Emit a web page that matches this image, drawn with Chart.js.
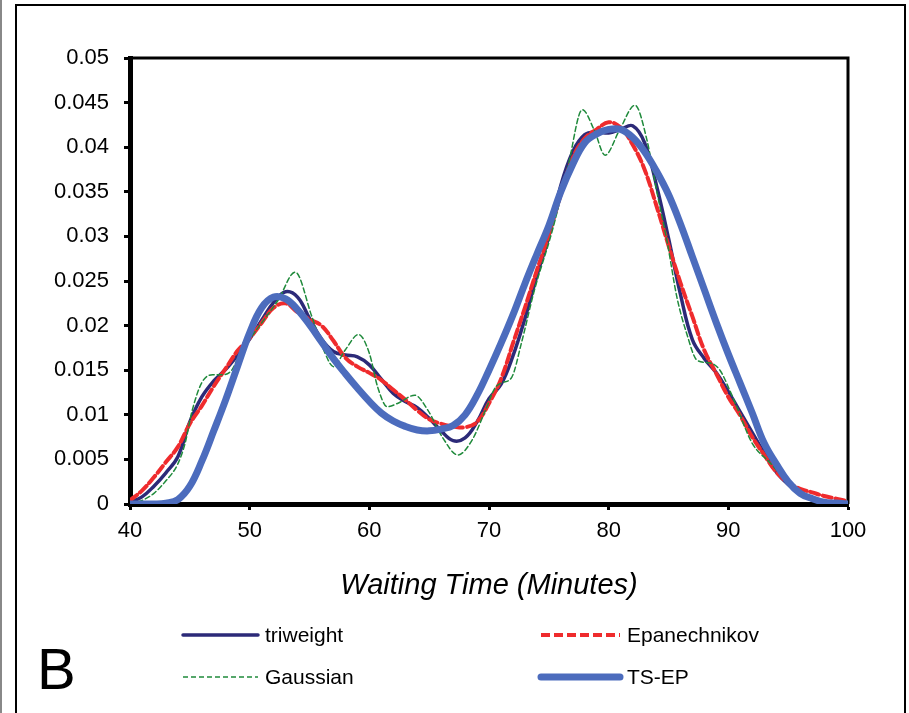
<!DOCTYPE html>
<html>
<head>
<meta charset="utf-8">
<script src="https://cdn.jsdelivr.net/npm/chart.js@4.4.1/dist/chart.umd.min.js"></script>
<style>
  html, body { margin: 0; padding: 0; background: #fff; }
  #wrap { width: 909px; height: 713px; position: relative; }
</style>
</head>
<body>
<div id="wrap"><canvas id="kdeChart"></canvas></div>
<script>
// waiting time grid (minutes) shared by the smooth estimates
const minutes = [40, 41, 42, 43, 44, 45, 46, 47, 48, 49,
  50, 51, 52, 53, 54, 55, 56, 57, 58, 59,
  60, 61, 62, 63, 64, 65, 66, 67, 68, 69,
  70, 71, 72, 73, 74, 75, 76, 77, 78, 79,
  80, 81, 82, 83, 84, 85, 86, 87, 88, 89,
  90, 91, 92, 93, 94, 95, 96, 97, 98, 99, 100];

const triweight = [0.0002, 0.0008, 0.0020, 0.0035, 0.0053, 0.0092, 0.0120, 0.0138, 0.0151, 0.0167,
  0.0185, 0.0206, 0.0226, 0.0238, 0.0232, 0.0208, 0.0185, 0.0171, 0.0167, 0.0165,
  0.0156, 0.0140, 0.0124, 0.0115, 0.0108, 0.0096, 0.0082, 0.0071, 0.0074, 0.0092,
  0.0118, 0.0134, 0.0166, 0.0208, 0.0256, 0.0300, 0.0357, 0.0395, 0.0414, 0.0417,
  0.0416, 0.0420, 0.0424, 0.0405, 0.0357, 0.0298, 0.0235, 0.0184, 0.0163, 0.0147,
  0.0126, 0.0103, 0.0080, 0.0057, 0.0036, 0.0022, 0.0012, 0.0006, 0.0003, 0.0001, 0];

const epanechnikov = [0.0004, 0.0015, 0.0030, 0.0047, 0.0064, 0.0090, 0.0110, 0.0132, 0.0152, 0.0172,
  0.0186, 0.0203, 0.0220, 0.0225, 0.0215, 0.0207, 0.0200, 0.0183, 0.0164, 0.0154,
  0.0147, 0.0139, 0.0128, 0.0117, 0.0105, 0.0095, 0.0090, 0.0087, 0.0086, 0.0092,
  0.0113, 0.0140, 0.0180, 0.0220, 0.0262, 0.0302, 0.0347, 0.0388, 0.0410, 0.0420,
  0.0428, 0.0422, 0.0403, 0.0375, 0.0334, 0.0290, 0.0248, 0.0210, 0.0172, 0.0146,
  0.0120, 0.0099, 0.0075, 0.0055, 0.0036, 0.0024, 0.0017, 0.0013, 0.0009, 0.0006, 0.0003];

const tsEp = [0, 0, 0, 0.0001, 0.0005, 0.0020, 0.0048, 0.0082, 0.0117, 0.0155,
  0.0192, 0.0220, 0.0232, 0.0230, 0.0218, 0.0201, 0.0182, 0.0163, 0.0146, 0.0130,
  0.0115, 0.0102, 0.0093, 0.0087, 0.0083, 0.0082, 0.0084, 0.0088, 0.0100, 0.0122,
  0.0150, 0.0180, 0.0212, 0.0247, 0.0280, 0.0312, 0.0350, 0.0381, 0.0405, 0.0415,
  0.0420, 0.0420, 0.0411, 0.0395, 0.0373, 0.0347, 0.0314, 0.0277, 0.0240, 0.0203,
  0.0168, 0.0135, 0.0102, 0.0068, 0.0045, 0.0025, 0.0012, 0.0006, 0.0002, 0.0001, 0];

// the gaussian estimate wiggles, so it is read at its turning points
const gaussianMinutes = [40, 41, 42, 43, 44, 44.6, 45.2, 46, 46.9, 47.7, 48.5, 49.2, 50, 51, 52.4,
  53.8, 55.2, 56.3, 57, 58, 59.1, 60, 60.7, 61.5, 62.4, 63.8, 64.9, 66.1, 67.4, 68.6, 69.7,
  70.5, 71.1, 71.9, 72.7, 73.8, 75.3, 76.6, 77.8, 78.8, 79.7, 80.9, 82.2, 83.2, 84, 84.9,
  85.7, 86.5, 87.4, 88.5, 89.3, 90.1, 90.7, 92, 93.5, 95, 96, 97, 98, 99, 100];
const gaussian = [0.0001, 0.0004, 0.0012, 0.0026, 0.0045, 0.0068, 0.0105, 0.0136, 0.0145, 0.0145, 0.0150, 0.0169, 0.0185, 0.0203, 0.0229,
  0.0260, 0.0210, 0.0169, 0.0154, 0.0173, 0.0190, 0.0169, 0.0131, 0.0109, 0.0113, 0.0122, 0.0105, 0.0075, 0.0055, 0.0072, 0.0105,
  0.0130, 0.0136, 0.0142, 0.0180, 0.0240, 0.0307, 0.0378, 0.0442, 0.0419, 0.0391, 0.0419, 0.0447, 0.0408, 0.0352, 0.0293,
  0.0232, 0.0192, 0.0161, 0.0158, 0.0150, 0.0128, 0.0109, 0.0068, 0.0046, 0.0024, 0.0013, 0.0007, 0.0003, 0.0001, 0];

const xTickLabels = ['40', '50', '60', '70', '80', '90', '100'];
const yTickLabels = ['0', '0.005', '0.01', '0.015', '0.02', '0.025', '0.03', '0.035', '0.04', '0.045', '0.05'];

const FONT = '"Liberation Sans", Arial, sans-serif';
const colors = {
  triweight: '#2c2a78',
  epan: '#ef2b2d',
  gauss: '#1f8a3b',
  tsep: '#4c6cbd'
};

function toPoints(xs, ys) {
  return xs.map((x, i) => ({ x: x, y: ys[i] }));
}

// frames, legend and panel letter
const decorPlugin = {
  id: 'decor',
  beforeDatasetsDraw(chart) {
    const ctx = chart.ctx;
    const a = chart.chartArea;
    ctx.save();
    ctx.strokeStyle = '#000';
    ctx.lineWidth = 3;
    ctx.beginPath();
    ctx.moveTo(a.left, a.top);
    ctx.lineTo(a.right, a.top);
    ctx.lineTo(a.right, a.bottom);
    ctx.stroke();
    ctx.restore();
  },
  afterDraw(chart) {
    const ctx = chart.ctx;
    ctx.save();
    // outer panel box
    ctx.strokeStyle = '#000';
    ctx.lineWidth = 2;
    ctx.beginPath();
    ctx.moveTo(16, 713);
    ctx.lineTo(16, 5);
    ctx.lineTo(905, 5);
    ctx.lineTo(905, 713);
    ctx.stroke();
    ctx.strokeStyle = '#888';
    ctx.beginPath();
    ctx.moveTo(1, 0);
    ctx.lineTo(1, 713);
    ctx.stroke();

    const items = [
      { label: 'triweight', color: colors.triweight, width: 3.5, dash: [], x0: 183, x1: 258, y: 635 },
      { label: 'Epanechnikov', color: colors.epan, width: 4, dash: [9, 4], x0: 541, x1: 620, y: 635 },
      { label: 'Gaussian', color: colors.gauss, width: 1.5, dash: [5, 3], x0: 183, x1: 258, y: 677 },
      { label: 'TS-EP', color: colors.tsep, width: 7, dash: [], x0: 541, x1: 620, y: 677 }
    ];
    ctx.font = '21px ' + FONT;
    ctx.textBaseline = 'middle';
    ctx.textAlign = 'left';
    items.forEach(it => {
      ctx.strokeStyle = it.color;
      ctx.lineWidth = it.width;
      ctx.setLineDash(it.dash);
      ctx.lineCap = it.dash.length ? 'butt' : 'round';
      ctx.beginPath();
      ctx.moveTo(it.x0, it.y);
      ctx.lineTo(it.x1, it.y);
      ctx.stroke();
      ctx.setLineDash([]);
      ctx.fillStyle = '#000';
      ctx.fillText(it.label, it.x1 + 7, it.y + 1);
    });

    ctx.font = '58px ' + FONT;
    ctx.textBaseline = 'alphabetic';
    ctx.fillText('B', 37, 689);
    ctx.restore();
  }
};

const ctx = document.getElementById('kdeChart').getContext('2d');
const kdeChart = new Chart(ctx, {
  type: 'line',
  data: {
    datasets: [
      {
        label: 'TS-EP',
        data: toPoints(minutes, tsEp),
        borderColor: colors.tsep,
        borderWidth: 7,
        tension: 0.4,
        order: 0
      },
      {
        label: 'Gaussian',
        data: toPoints(gaussianMinutes, gaussian),
        borderColor: colors.gauss,
        borderWidth: 1.5,
        borderDash: [5, 3],
        cubicInterpolationMode: 'monotone',
        order: 1
      },
      {
        label: 'Epanechnikov',
        data: toPoints(minutes, epanechnikov),
        borderColor: colors.epan,
        borderWidth: 4,
        borderDash: [9, 4],
        tension: 0.4,
        order: 2
      },
      {
        label: 'triweight',
        data: toPoints(minutes, triweight),
        borderColor: colors.triweight,
        borderWidth: 3.5,
        tension: 0.4,
        order: 3
      }
    ]
  },
  options: {
    responsive: true,
    maintainAspectRatio: false,
    animation: false,
    devicePixelRatio: 1,
    layout: { padding: { left: 0, top: 58, right: 61, bottom: 0 } },
    elements: {
      point: { radius: 0, hoverRadius: 0 },
      line: { fill: false, borderCapStyle: 'round', borderJoinStyle: 'round' }
    },
    plugins: {
      legend: { display: false },
      tooltip: { enabled: false }
    },
    scales: {
      x: {
        type: 'linear',
        min: 40,
        max: 100,
        afterFit: s => { s.height = 209; },
        ticks: {
          stepSize: 10,
          color: '#000',
          padding: 8,
          font: { family: FONT, size: 22 },
          callback: (v, i) => xTickLabels[i]
        },
        grid: { drawOnChartArea: false, drawTicks: true, tickLength: 6, tickWidth: 3, tickColor: '#000' },
        border: { display: true, color: '#000', width: 5 },
        title: {
          display: true,
          text: 'Waiting Time (Minutes)',
          color: '#000',
          font: { family: FONT, size: 29, style: 'italic' },
          padding: { top: 0, bottom: 110 }
        }
      },
      y: {
        min: 0,
        max: 0.05,
        afterFit: s => { s.width = 130; },
        ticks: {
          stepSize: 0.005,
          color: '#000',
          padding: 15,
          font: { family: FONT, size: 22 },
          callback: (v, i) => yTickLabels[i]
        },
        grid: { drawOnChartArea: false, drawTicks: true, tickLength: 6, tickWidth: 3, tickColor: '#000' },
        border: { display: true, color: '#000', width: 5 }
      }
    }
  },
  plugins: [decorPlugin]
});
</script>
</body>
</html>
